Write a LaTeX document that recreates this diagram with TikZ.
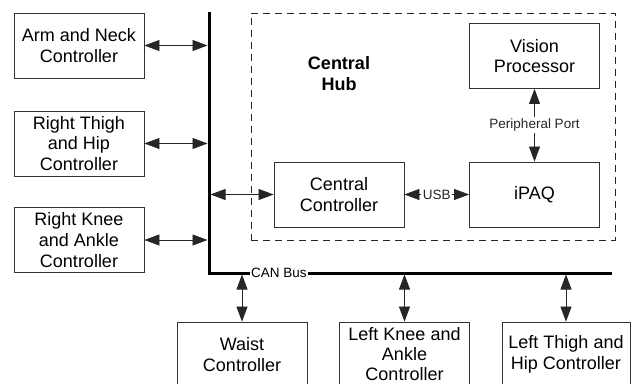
\documentclass[tikz,border=0pt]{standalone}
\usepackage{fontspec}
\setmainfont{Liberation Sans}
\usetikzlibrary{arrows.meta}

\tikzset{
    ctrl/.style={draw=black!80, line width=0.8pt, minimum width=130pt,
        minimum height=65pt, align=center, inner sep=1pt,
        font=\fontsize{18}{20.7}\selectfont},
    hubbox/.style={draw=black!85, line width=0.8pt, dash pattern=on 7pt off 5pt,
        minimum width=364pt, minimum height=227pt},
    link/.style={{Triangle[length=15pt,width=11pt]}-{Triangle[length=15pt,width=11pt]},
        line width=0.7pt, black!85},
    tag/.style={fill=white, inner sep=1.5pt, font=\fontsize{13.5}{15}\selectfont},
    bus/.style={line width=3pt, line join=miter}
}

\begin{document}
\begin{tikzpicture}[x=1pt,y=-1pt]
    \useasboundingbox (0,0) rectangle (636,383);
    \node[hubbox] (hub) at (433,126.5) {};
    \node[align=center, font=\fontsize{18}{21}\selectfont\bfseries] (hubl) at (339,74) {Central\\Hub};
    \node[ctrl] (arm) at (79,45.5) {Arm and Neck\\Controller};
    \node[ctrl] (rth) at (79,143.5) {Right Thigh\\and Hip\\Controller};
    \node[ctrl] (rkn) at (79,240) {Right Knee\\and Ankle\\Controller};
    \node[ctrl] (cc) at (339,194.5) {Central\\Controller};
    \node[ctrl] (ipaq) at (534.5,194.5) {iPAQ};
    \node[ctrl] (vis) at (534.5,56) {Vision\\Processor};
    \node[ctrl] (waist) at (242,354.5) {Waist\\Controller};
    \node[ctrl, font=\fontsize{18}{20}\selectfont] (lkn) at (404.5,354.5) {Left Knee and\\Ankle\\Controller};
    \node[ctrl, minimum width=128pt] (lth) at (566,354.5) {Left Thigh and\\Hip Controller};
    % CAN bus
    \coordinate (bustop) at (209,12);
    \coordinate (buscorner) at (209,273);
    \coordinate (busend) at (612,273);
    \draw[bus] (bustop) -- (buscorner) -- (busend);
    \node[tag] (can) at (279,273) {CAN Bus};
    \draw
    (arm.east) edge[link, shorten >=1.5pt] (arm.east -| bustop)
    (rth.east) edge[link, shorten >=1.5pt] (rth.east -| bustop)
    (rkn.east) edge[link, shorten >=1.5pt] (rkn.east -| bustop)
    (cc.west -| bustop) edge[link, shorten <=1.5pt] (cc.west)
    (waist.north |- buscorner) edge[link, shorten <=1.5pt] (waist.north)
    (lkn.north |- buscorner) edge[link, shorten <=1.5pt] (lkn.north)
    (lth.north |- buscorner) edge[link, shorten <=1.5pt] (lth.north);
    \draw[link] (cc) -- node[tag] (usb) {USB} (ipaq);
    \draw[link] (vis) -- node[tag] (port) {Peripheral Port} (ipaq);
\end{tikzpicture}
\end{document}
